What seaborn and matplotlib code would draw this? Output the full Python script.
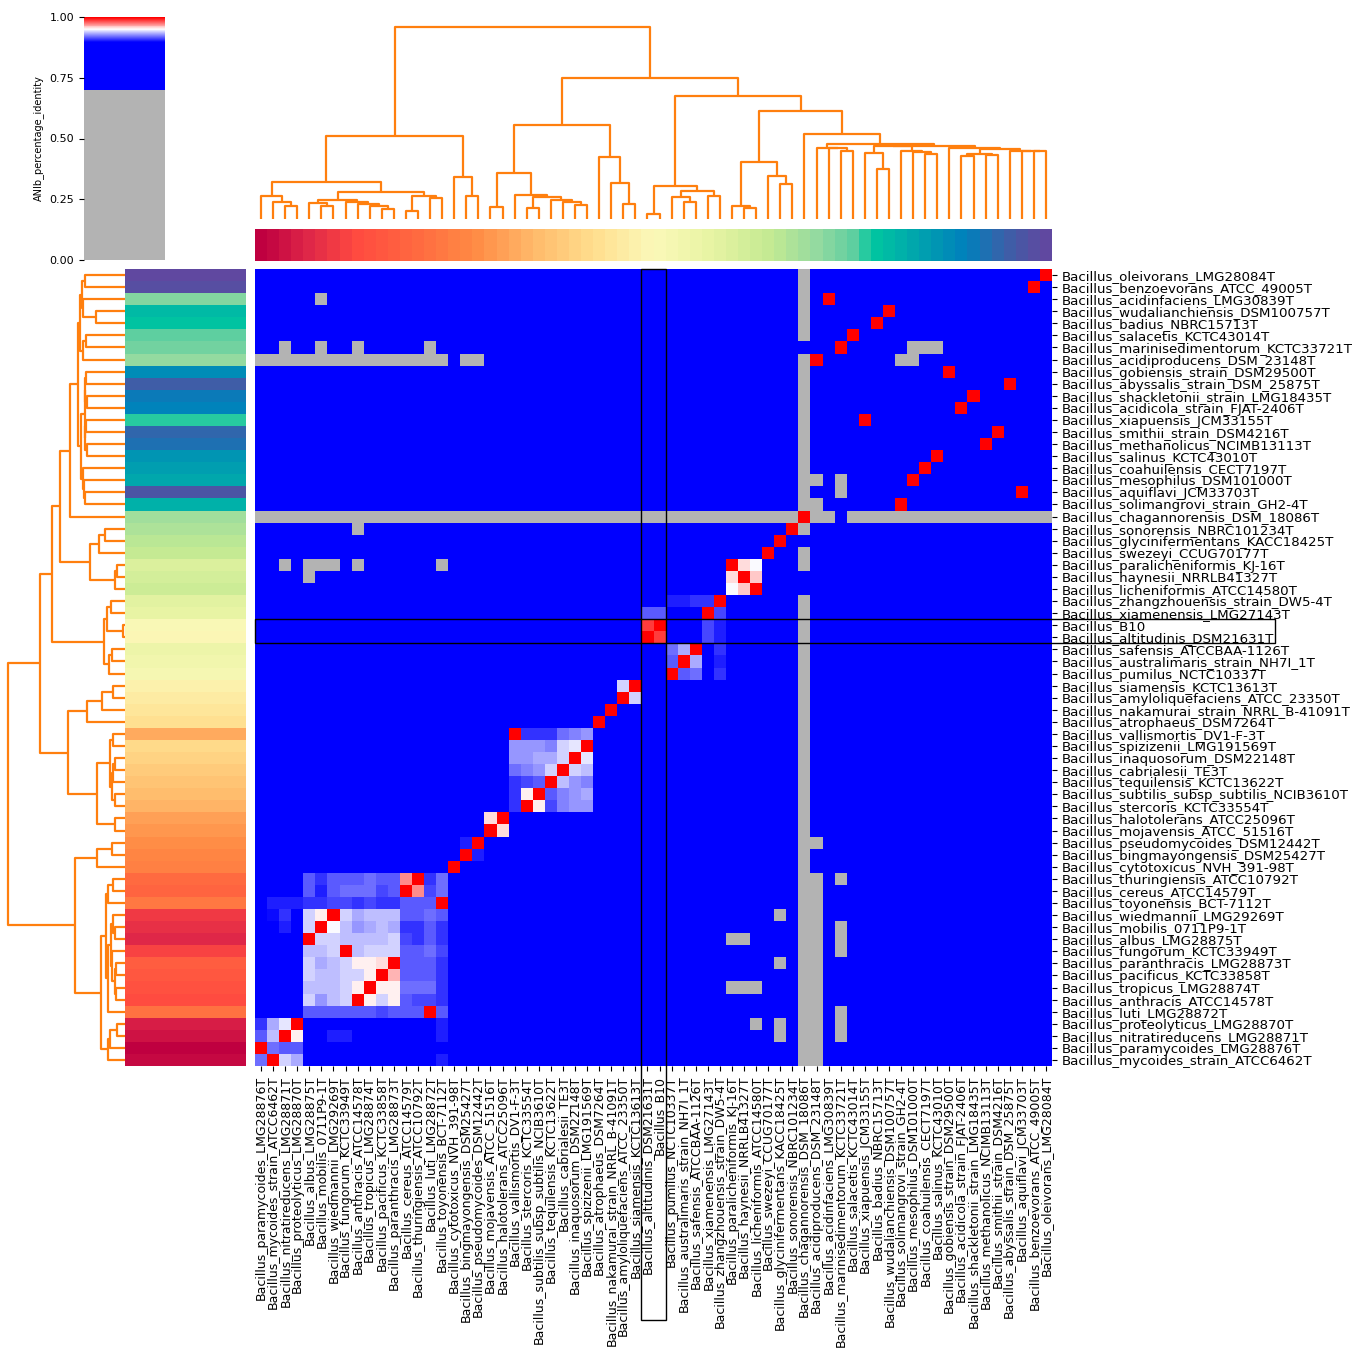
import numpy as np
import pandas as pd
import matplotlib
matplotlib.use("Agg")
import matplotlib.pyplot as plt
import seaborn as sns
from matplotlib.colors import LinearSegmentedColormap, ListedColormap
from matplotlib.patches import Rectangle

# ---------------- data ----------------
row_labels = [
    "Bacillus_oleivorans_LMG28084T", "Bacillus_benzoevorans_ATCC_49005T", "Bacillus_acidinfaciens_LMG30839T",
    "Bacillus_wudalianchiensis_DSM100757T", "Bacillus_badius_NBRC15713T", "Bacillus_salacetis_KCTC43014T",
    "Bacillus_marinisedimentorum_KCTC33721T", "Bacillus_acidiproducens_DSM_23148T", "Bacillus_gobiensis_strain_DSM29500T",
    "Bacillus_abyssalis_strain_DSM_25875T", "Bacillus_shackletonii_strain_LMG18435T", "Bacillus_acidicola_strain_FJAT-2406T",
    "Bacillus_xiapuensis_JCM33155T", "Bacillus_smithii_strain_DSM4216T", "Bacillus_methanolicus_NCIMB13113T",
    "Bacillus_salinus_KCTC43010T", "Bacillus_coahuilensis_CECT7197T", "Bacillus_mesophilus_DSM101000T",
    "Bacillus_aquiflavi_JCM33703T", "Bacillus_solimangrovi_strain_GH2-4T", "Bacillus_chagannorensis_DSM_18086T",
    "Bacillus_sonorensis_NBRC101234T", "Bacillus_glycinifermentans_KACC18425T", "Bacillus_swezeyi_CCUG70177T",
    "Bacillus_paralicheniformis_KJ-16T", "Bacillus_haynesii_NRRLB41327T", "Bacillus_licheniformis_ATCC14580T",
    "Bacillus_zhangzhouensis_strain_DW5-4T", "Bacillus_xiamenensis_LMG27143T", "Bacillus_B10",
    "Bacillus_altitudinis_DSM21631T", "Bacillus_safensis_ATCCBAA-1126T", "Bacillus_australimaris_strain_NH7I_1T",
    "Bacillus_pumilus_NCTC10337T", "Bacillus_siamensis_KCTC13613T", "Bacillus_amyloliquefaciens_ATCC_23350T",
    "Bacillus_nakamurai_strain_NRRL_B-41091T", "Bacillus_atrophaeus_DSM7264T", "Bacillus_vallismortis_DV1-F-3T",
    "Bacillus_spizizenii_LMG191569T", "Bacillus_inaquosorum_DSM22148T", "Bacillus_cabrialesii_TE3T",
    "Bacillus_tequilensis_KCTC13622T", "Bacillus_subtilis_subsp_subtilis_NCIB3610T", "Bacillus_stercoris_KCTC33554T",
    "Bacillus_halotolerans_ATCC25096T", "Bacillus_mojavensis_ATCC_51516T", "Bacillus_pseudomycoides_DSM12442T",
    "Bacillus_bingmayongensis_DSM25427T", "Bacillus_cytotoxicus_NVH_391-98T", "Bacillus_thuringiensis_ATCC10792T",
    "Bacillus_cereus_ATCC14579T", "Bacillus_toyonensis_BCT-7112T", "Bacillus_wiedmannii_LMG29269T",
    "Bacillus_mobilis_0711P9-1T", "Bacillus_albus_LMG28875T", "Bacillus_fungorum_KCTC33949T",
    "Bacillus_paranthracis_LMG28873T", "Bacillus_pacificus_KCTC33858T", "Bacillus_tropicus_LMG28874T",
    "Bacillus_anthracis_ATCC14578T", "Bacillus_luti_LMG28872T", "Bacillus_proteolyticus_LMG28870T",
    "Bacillus_nitratireducens_LMG28871T", "Bacillus_paramycoides_LMG28876T", "Bacillus_mycoides_strain_ATCC6462T",
]

col_labels = [
    "Bacillus_paramycoides_LMG28876T", "Bacillus_mycoides_strain_ATCC6462T", "Bacillus_nitratireducens_LMG28871T",
    "Bacillus_proteolyticus_LMG28870T", "Bacillus_albus_LMG28875T", "Bacillus_mobilis_0711P9-1T",
    "Bacillus_wiedmannii_LMG29269T", "Bacillus_fungorum_KCTC33949T", "Bacillus_anthracis_ATCC14578T",
    "Bacillus_tropicus_LMG28874T", "Bacillus_pacificus_KCTC33858T", "Bacillus_paranthracis_LMG28873T",
    "Bacillus_cereus_ATCC14579T", "Bacillus_thuringiensis_ATCC10792T", "Bacillus_luti_LMG28872T",
    "Bacillus_toyonensis_BCT-7112T", "Bacillus_cytotoxicus_NVH_391-98T", "Bacillus_bingmayongensis_DSM25427T",
    "Bacillus_pseudomycoides_DSM12442T", "Bacillus_mojavensis_ATCC_51516T", "Bacillus_halotolerans_ATCC25096T",
    "Bacillus_vallismortis_DV1-F-3T", "Bacillus_stercoris_KCTC33554T", "Bacillus_subtilis_subsp_subtilis_NCIB3610T",
    "Bacillus_tequilensis_KCTC13622T", "Bacillus_cabrialesii_TE3T", "Bacillus_inaquosorum_DSM22148T",
    "Bacillus_spizizenii_LMG191569T", "Bacillus_atrophaeus_DSM7264T", "Bacillus_nakamurai_strain_NRRL_B-41091T",
    "Bacillus_amyloliquefaciens_ATCC_23350T", "Bacillus_siamensis_KCTC13613T", "Bacillus_altitudinis_DSM21631T",
    "Bacillus_B10", "Bacillus_pumilus_NCTC10337T", "Bacillus_australimaris_strain_NH7I_1T",
    "Bacillus_safensis_ATCCBAA-1126T", "Bacillus_xiamenensis_LMG27143T", "Bacillus_zhangzhouensis_strain_DW5-4T",
    "Bacillus_paralicheniformis_KJ-16T", "Bacillus_haynesii_NRRLB41327T", "Bacillus_licheniformis_ATCC14580T",
    "Bacillus_swezeyi_CCUG70177T", "Bacillus_glycinifermentans_KACC18425T", "Bacillus_sonorensis_NBRC101234T",
    "Bacillus_chagannorensis_DSM_18086T", "Bacillus_acidiproducens_DSM_23148T", "Bacillus_acidinfaciens_LMG30839T",
    "Bacillus_marinisedimentorum_KCTC33721T", "Bacillus_salacetis_KCTC43014T", "Bacillus_xiapuensis_JCM33155T",
    "Bacillus_badius_NBRC15713T", "Bacillus_wudalianchiensis_DSM100757T", "Bacillus_solimangrovi_strain_GH2-4T",
    "Bacillus_mesophilus_DSM101000T", "Bacillus_coahuilensis_CECT7197T", "Bacillus_salinus_KCTC43010T",
    "Bacillus_gobiensis_strain_DSM29500T", "Bacillus_acidicola_strain_FJAT-2406T", "Bacillus_shackletonii_strain_LMG18435T",
    "Bacillus_methanolicus_NCIMB13113T", "Bacillus_smithii_strain_DSM4216T", "Bacillus_abyssalis_strain_DSM_25875T",
    "Bacillus_aquiflavi_JCM33703T", "Bacillus_benzoevorans_ATCC_49005T", "Bacillus_oleivorans_LMG28084T",
]

# typical ANIb value of unrelated pairs (all shown in the same blue) and of low-coverage pairs (grey)
background_identity = 0.80
low_identity = 0.65

# grey (<0.70) cells: row number -> column numbers (1-based, in displayed order)
grey_cells = {
    1: [46], 2: [46], 3: [6, 46], 4: [46], 5: [46], 6: [46],
    7: [3, 6, 9, 15, 55, 56, 57],
    8: list(range(1, 17)) + [18, 19, 46, 54, 55],
    9: [46], 10: [46], 11: [46], 12: [46], 13: [46], 14: [46], 15: [46], 16: [46], 17: [46],
    18: [46, 47, 49], 19: [46, 49], 20: [46, 47],
    21: list(range(1, 46)) + [47, 48] + list(range(50, 67)),
    22: [9, 46], 24: [46], 25: [3, 5, 6, 7, 9, 16, 46], 26: [5],
    28: [46], 29: [46], 30: [46], 31: [46], 32: [46], 33: [46], 34: [46], 35: [46], 36: [46],
    37: [46], 38: [46], 39: [46], 40: [46], 41: [46], 42: [46], 43: [46], 44: [46], 45: [46],
    46: [46], 47: [46], 48: [46, 47], 49: [46], 50: [46],
    51: [46, 47, 49], 52: [46, 47], 53: [46, 47], 54: [44, 46, 47], 55: [46, 47, 49],
    56: [40, 41, 46, 47, 49], 57: [46, 47, 49], 58: [44, 46, 47], 59: [46, 47],
    60: [40, 41, 42, 46, 47], 61: [46, 47], 62: [46, 47, 49], 63: [42, 44, 46, 47, 49],
    64: [44, 46, 47, 49], 65: [46, 47], 66: [46, 47],
}

# closely related pairs (row, column, identity)
close_cells = [
    (25, 41, 0.955), (25, 42, 0.948), (26, 40, 0.954), (26, 42, 0.958), (27, 40, 0.948), (27, 41, 0.959),
    (28, 35, 0.906), (28, 36, 0.906), (28, 37, 0.909), (28, 38, 0.909),
    (29, 33, 0.915), (29, 34, 0.915), (29, 39, 0.911),
    (30, 33, 0.985), (30, 38, 0.914), (30, 39, 0.904),
    (31, 34, 0.985), (31, 38, 0.914), (31, 39, 0.904),
    (32, 35, 0.919), (32, 36, 0.933), (32, 39, 0.909),
    (33, 35, 0.916), (33, 37, 0.933), (33, 39, 0.906),
    (34, 36, 0.916), (34, 37, 0.921), (34, 39, 0.907),
    (35, 31, 0.940), (36, 32, 0.940),
    (39, 23, 0.908), (39, 24, 0.908), (39, 25, 0.908), (39, 26, 0.919), (39, 27, 0.925), (39, 28, 0.928),
    (40, 22, 0.928), (40, 23, 0.928), (40, 24, 0.928), (40, 25, 0.925), (40, 26, 0.938), (40, 27, 0.945),
    (41, 22, 0.928), (41, 23, 0.928), (41, 24, 0.930), (41, 25, 0.930), (41, 26, 0.939), (41, 28, 0.944),
    (42, 22, 0.919), (42, 23, 0.922), (42, 24, 0.927), (42, 25, 0.938), (42, 27, 0.939), (42, 28, 0.936),
    (43, 22, 0.908), (43, 23, 0.9125), (43, 24, 0.916), (43, 26, 0.934), (43, 27, 0.928), (43, 28, 0.925),
    (44, 22, 0.908), (44, 23, 0.953), (44, 25, 0.916), (44, 26, 0.925), (44, 27, 0.928), (44, 28, 0.931),
    (45, 22, 0.908), (45, 24, 0.953), (45, 25, 0.9125), (45, 26, 0.922), (45, 27, 0.927), (45, 28, 0.928),
    (46, 20, 0.957), (47, 21, 0.957), (48, 18, 0.905), (49, 19, 0.905),
    (51, 5, 0.9145), (51, 6, 0.908), (51, 7, 0.9145), (51, 8, 0.9145), (51, 9, 0.9145), (51, 10, 0.921),
    (51, 11, 0.9145), (51, 12, 0.9145), (51, 13, 0.970), (51, 15, 0.908), (51, 16, 0.919),
    (52, 5, 0.9145), (52, 6, 0.906), (52, 7, 0.9145), (52, 8, 0.919), (52, 9, 0.919), (52, 10, 0.919),
    (52, 11, 0.9125), (52, 12, 0.917), (52, 14, 0.970), (52, 15, 0.911), (52, 16, 0.919),
    (53, 2, 0.906), (53, 3, 0.906), (53, 4, 0.906), (53, 5, 0.907), (53, 6, 0.907), (53, 7, 0.9125),
    (53, 8, 0.9125), (53, 9, 0.908), (53, 10, 0.9125), (53, 11, 0.908), (53, 12, 0.908), (53, 13, 0.9176),
    (53, 14, 0.9176), (53, 15, 0.9145),
    (54, 2, 0.902), (54, 3, 0.909), (54, 5, 0.941), (54, 6, 0.950), (54, 8, 0.9376), (54, 9, 0.931),
    (54, 10, 0.9345), (54, 11, 0.9345), (54, 12, 0.9345), (54, 13, 0.9145), (54, 14, 0.9145), (54, 15, 0.921),
    (54, 16, 0.9157),
    (55, 3, 0.905), (55, 5, 0.9376), (55, 7, 0.9455), (55, 8, 0.9345), (55, 9, 0.927), (55, 10, 0.930),
    (55, 11, 0.9345), (55, 12, 0.930), (55, 13, 0.909), (55, 14, 0.909), (55, 15, 0.9145), (55, 16, 0.909),
    (56, 6, 0.9376), (56, 7, 0.9376), (56, 8, 0.9345), (56, 9, 0.9345), (56, 10, 0.9345), (56, 11, 0.9345),
    (56, 12, 0.9376), (56, 13, 0.9125), (56, 14, 0.908), (56, 15, 0.9145), (56, 16, 0.909),
    (57, 5, 0.9345), (57, 6, 0.9345), (57, 7, 0.9376), (57, 9, 0.9345), (57, 10, 0.941), (57, 11, 0.9376),
    (57, 12, 0.9376), (57, 13, 0.9157), (57, 14, 0.9157), (57, 15, 0.919), (57, 16, 0.9125),
    (58, 5, 0.9376), (58, 6, 0.930), (58, 7, 0.9345), (58, 8, 0.939), (58, 9, 0.953), (58, 10, 0.953),
    (58, 11, 0.957), (58, 13, 0.917), (58, 14, 0.917), (58, 15, 0.9145), (58, 16, 0.910),
    (59, 5, 0.9376), (59, 6, 0.9345), (59, 7, 0.9345), (59, 8, 0.939), (59, 9, 0.941), (59, 10, 0.950),
    (59, 12, 0.9625), (59, 13, 0.917), (59, 14, 0.917), (59, 15, 0.9145), (59, 16, 0.910),
    (60, 5, 0.9345), (60, 6, 0.9345), (60, 7, 0.9345), (60, 8, 0.939), (60, 9, 0.950), (60, 11, 0.950),
    (60, 12, 0.953), (60, 13, 0.919), (60, 14, 0.919), (60, 15, 0.919), (60, 16, 0.910),
    (61, 5, 0.9376), (61, 6, 0.928), (61, 7, 0.9345), (61, 8, 0.9376), (61, 10, 0.950), (61, 11, 0.941),
    (61, 12, 0.953), (61, 13, 0.917), (61, 14, 0.9125), (61, 15, 0.9125), (61, 16, 0.910),
    (62, 5, 0.9157), (62, 6, 0.9157), (62, 7, 0.917), (62, 8, 0.917), (62, 9, 0.9145), (62, 10, 0.9176),
    (62, 11, 0.9125), (62, 12, 0.9157), (62, 13, 0.9145), (62, 14, 0.9145), (62, 16, 0.9157),
    (63, 1, 0.909), (63, 2, 0.930), (63, 3, 0.944), (63, 16, 0.905),
    (64, 1, 0.9145), (64, 2, 0.936), (64, 4, 0.950), (64, 7, 0.903), (64, 8, 0.903), (64, 16, 0.905),
    (65, 2, 0.919), (65, 3, 0.9145), (65, 4, 0.9145),
    (66, 1, 0.921), (66, 3, 0.9376), (66, 4, 0.930), (66, 16, 0.905),
]

# dendrograms: [merge distance (root = 1), left, right]; leaves are 1-based positions
col_tree = [1.0,
    [0.435,
        [0.195,
            [0.122, 1, [0.090, 2, [0.070, 3, 4]]],
            [0.139,
                [0.099, [0.082, 5, [0.070, 6, 7]], [0.090, 8, [0.078, 9, [0.070, 10, [0.052, 11, 12]]]]],
                [0.122, [0.043, 13, 14], [0.111, 15, 16]]]],
        [0.221, 17, [0.122, 18, 19]]],
    [0.737,
        [0.489,
            [0.238, [0.064, 20, 21],
                [0.125, 22, [0.117, [0.059, 23, 24], [0.099, 25, [0.090, 26, [0.073, 27, 28]]]]]],
            [0.325, 29, [0.186, 30, [0.078, 31, 32]]]],
        [0.642,
            [0.174, [0.026, 33, 34], [0.146, [0.117, 35, [0.087, 36, 37]], [0.120, 38, 39]]],
            [0.565,
                [0.299, [0.070, 40, [0.056, 41, 42]], [0.226, 43, [0.183, 44, 45]]],
                [0.443, 46,
                    [0.391,
                        [0.372, 47, [0.369, 48, [0.355, 49, 50]]],
                        [0.381,
                            [0.379, [0.343, 51, [0.263, 52, 53]], [0.355, 54, [0.348, 55, [0.339, 56, 57]]]],
                            [0.370, 58, [0.365, [0.340, [0.330, 59, 60], [0.335, 61, 62]],
                                               [0.355, 63, [0.355, 64, [0.355, 65, 66]]]]]]]]]]]]

row_tree = [1.0,
    [0.729,
        [0.629,
            [0.557,
                [0.471,
                    [0.400,
                        [0.386, [0.371, [0.343, 1, 2], [0.357, 3, [0.251, 4, 5]]], [0.357, [0.337, 6, 7], 8]],
                        [0.377, [0.345, [0.340, [0.335, 9, 10], [0.330, 11, 12]], [0.340, [0.335, 13, 14], [0.330, 15, 16]]],
                                [0.360, 17, [0.350, 18, [0.343, 19, 20]]]]],
                    21],
                [0.300, [0.220, [0.171, 22, 23], 24], [0.086, [0.066, 25, 26], 27]]],
            [0.180, [0.151, [0.123, 28, 29], [0.014, 30, 31]], [0.134, [0.109, 32, 33], 34]]],
        [0.486,
            [0.323, [0.200, [0.100, 35, 36], 37], 38],
            [0.243, [0.129, [0.100, 39, 40], [0.114, [0.100, [0.086, 41, 42], 43], [0.086, 44, 45]]],
                    [0.086, 46, 47]]]],
    [0.429,
        [0.237, [0.114, 48, 49], 50],
        [0.209,
            [0.163, [0.143, [0.100, 51, 52], 53],
                    [0.150, [0.120, [0.100, 54, [0.090, 55, 56]], [0.110, 57, [0.090, [0.080, 58, 59], [0.080, 60, 61]]]], 62]],
            [0.143, [0.129, [0.066, 63, 64], 65], 66]]]]

highlight = ["Bacillus_B10", "Bacillus_altitudinis_DSM21631T"]

# label colours: vivid spectral ramp, (position along the column order, colour)
label_ramp = [(0.00, "#bf0040"), (0.06, "#e02848"), (0.12, "#ff4a40"), (0.20, "#ff6a40"),
              (0.27, "#ff8a44"), (0.35, "#ffbc6c"), (0.43, "#ffe090"), (0.50, "#fbf8b8"),
              (0.57, "#e8f4a4"), (0.65, "#c4ea92"), (0.71, "#94daa0"), (0.75, "#68d0a0"),
              (0.78, "#00c6a0"), (0.83, "#00a8ac"), (0.90, "#0080bc"), (0.95, "#3a60a8"),
              (1.00, "#6048a0")]

# ---------------- build matrix ----------------
n = len(row_labels)
M = np.full((n, n), background_identity)
for r, cols in grey_cells.items():
    for c in cols:
        M[r - 1, c - 1] = low_identity
for r, c, v in close_cells:
    M[r - 1, c - 1] = v
for i, name in enumerate(row_labels):
    M[i, col_labels.index(name)] = 1.0
df = pd.DataFrame(M, index=row_labels, columns=col_labels)

cdict = {
    "red": ((0.0, 0.0, 0.7), (0.7, 0.7, 0.0), (0.9, 0.0, 0.0), (0.95, 1.0, 1.0), (1.0, 1.0, 1.0)),
    "green": ((0.0, 0.0, 0.7), (0.7, 0.7, 0.0), (0.9, 0.0, 0.0), (0.95, 1.0, 1.0), (1.0, 0.0, 0.0)),
    "blue": ((0.0, 0.0, 0.7), (0.7, 0.7, 1.0), (0.9, 1.0, 1.0), (0.95, 1.0, 1.0), (1.0, 0.0, 0.0)),
}
cmap = LinearSegmentedColormap("spbnd_BuRd", cdict)

ramp = LinearSegmentedColormap.from_list("vivid_spectral", label_ramp)
palette = [ramp(i / (n - 1)) for i in range(n)]
label_cmap = ListedColormap(palette)

# ---------------- layout ----------------
W, H = 1364, 1369
fig = plt.figure(figsize=(W / 100, H / 100), dpi=100)


def box(x0, y0, x1, y1):
    return [x0 / W, 1 - y1 / H, (x1 - x0) / W, (y1 - y0) / H]


ax_heat = fig.add_axes(box(255, 269, 1052, 1066))
ax_rc = fig.add_axes(box(125, 269, 246, 1066))
ax_cc = fig.add_axes(box(255, 229, 1052, 261))
ax_rd = fig.add_axes(box(2.5, 269, 125, 1066))
ax_cd = fig.add_axes(box(255, 17.7, 1052, 219))
ax_cb = fig.add_axes(box(84, 17, 165, 260))

sns.heatmap(df, ax=ax_heat, cmap=cmap, vmin=0, vmax=1, cbar_ax=ax_cb,
            xticklabels=True, yticklabels=True,
            cbar_kws={"ticks": [0, 0.25, 0.5, 0.75, 1.0], "format": "%.2f"})
ax_heat.yaxis.tick_right()
ax_heat.set_yticklabels(row_labels, rotation=0, fontsize=9.6)
ax_heat.set_xticklabels(col_labels, rotation=90, fontsize=9)
ax_heat.set_xlabel("")
ax_heat.set_ylabel("")

cb = ax_heat.collections[0].colorbar
cb.outline.set_visible(False)
cb.ax.yaxis.set_ticks_position("left")
cb.ax.yaxis.set_label_position("left")
cb.ax.tick_params(labelsize=8)
cb.set_label("ANIb_percentage_identity", fontsize=7)

# label colour strips
row_idx = np.array([[col_labels.index(name)] for name in row_labels])
col_idx = np.array([list(range(n))])
sns.heatmap(row_idx, ax=ax_rc, cmap=label_cmap, vmin=-0.5, vmax=n - 0.5, cbar=False,
            xticklabels=False, yticklabels=False)
sns.heatmap(col_idx, ax=ax_cc, cmap=label_cmap, vmin=-0.5, vmax=n - 0.5, cbar=False,
            xticklabels=False, yticklabels=False)

# dendrograms
tree_color = "#ff7f0e"


def tree_segments(tree):
    segs = []

    def walk(node):
        if isinstance(node, int):
            return node - 0.5, 0.0
        h, a, b = node
        xa, ha = walk(a)
        xb, hb = walk(b)
        segs.append(([xa, xa, xb, xb], [ha, h, h, hb]))
        return (xa + xb) / 2, h

    walk(tree)
    return segs


for xs, hs in tree_segments(col_tree):
    ax_cd.plot(xs, hs, color=tree_color, lw=1.6, solid_capstyle="butt")
ax_cd.set_xlim(0, n)
ax_cd.set_ylim(0, 1.05)
ax_cd.axis("off")

for ys, hs in tree_segments(row_tree):
    ax_rd.plot(hs, ys, color=tree_color, lw=1.6, solid_capstyle="butt")
ax_rd.set_ylim(n, 0)
ax_rd.set_xlim(1.05, 0)
ax_rd.axis("off")

# highlight boxes for the query genome and its closest type strain
r_hi = sorted(row_labels.index(h) for h in highlight)
c_hi = sorted(col_labels.index(h) for h in highlight)
cell = (1052 - 255) / n
ax_heat.add_patch(Rectangle((0, r_hi[0]), (1275 - 255) / cell, len(r_hi), fill=False,
                            ec="black", lw=1.0, clip_on=False, zorder=10))
ax_heat.add_patch(Rectangle((c_hi[0], 0), len(c_hi), (1320 - 269) / cell, fill=False,
                            ec="black", lw=1.0, clip_on=False, zorder=10))

fig.savefig("out.png", dpi=100)
